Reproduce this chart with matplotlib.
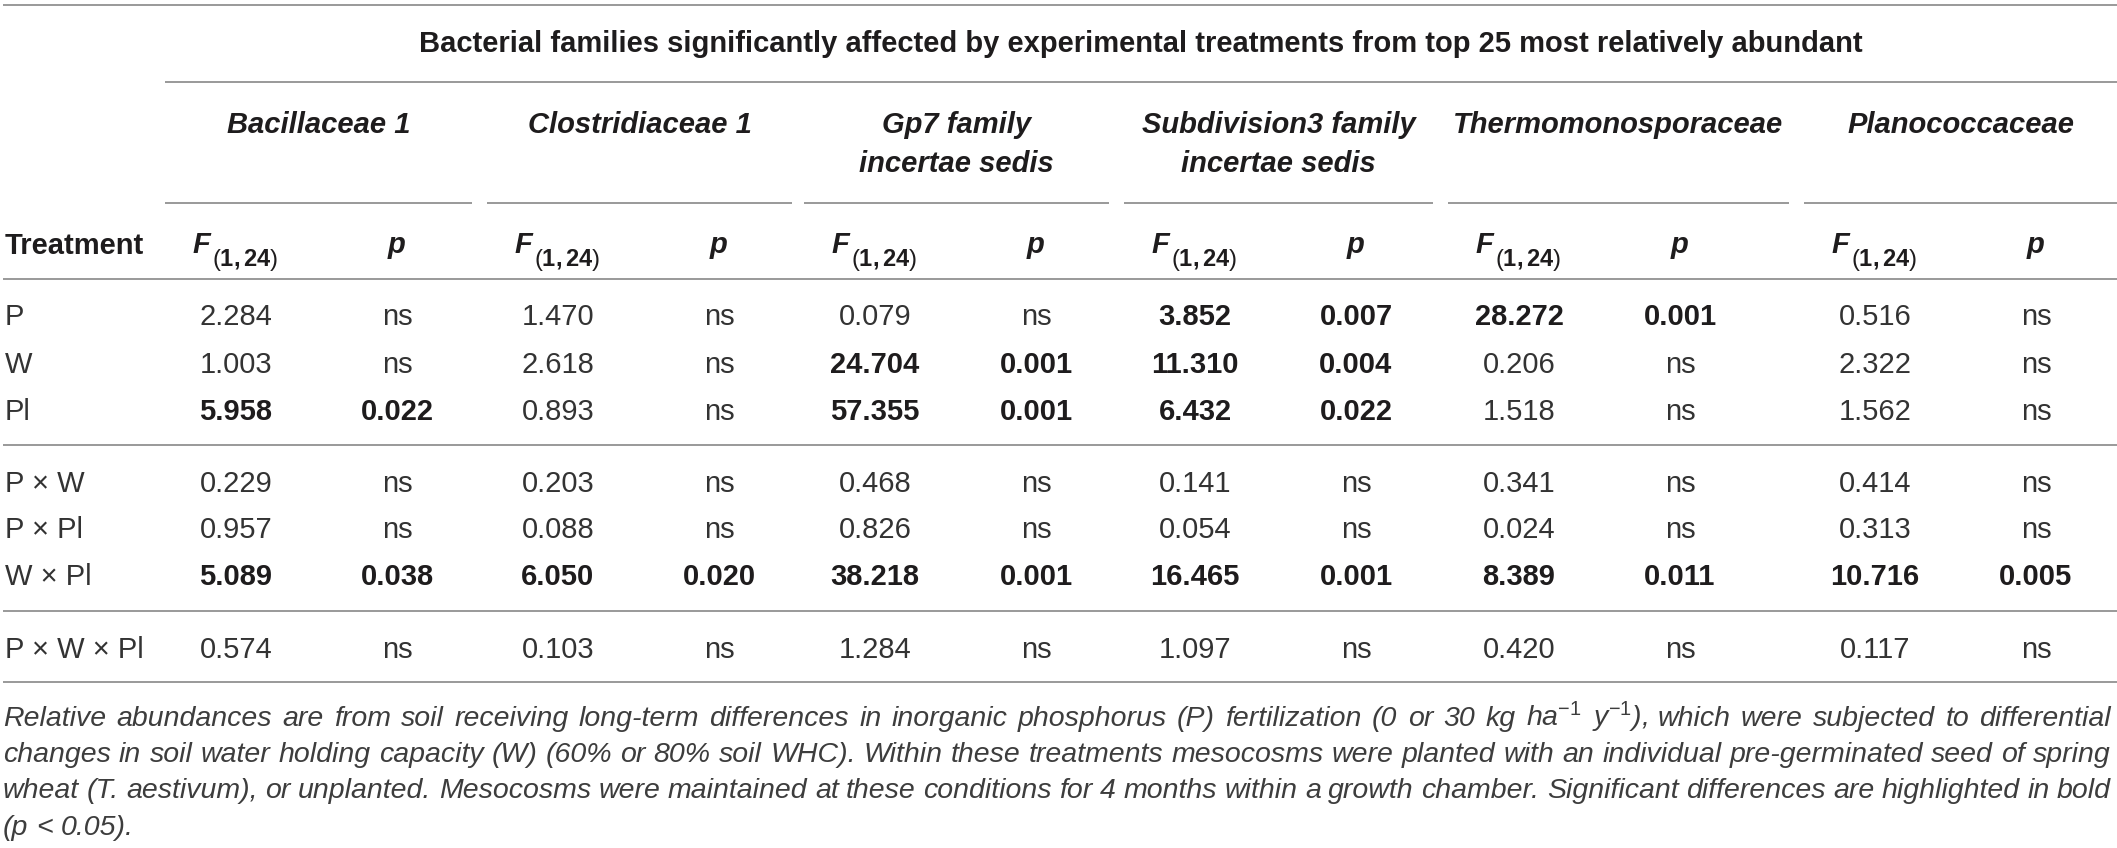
import matplotlib
matplotlib.use("Agg")
import matplotlib.pyplot as plt

plt.rcParams['font.family'] = ['Liberation Sans', 'DejaVu Sans']
plt.rcParams['mathtext.fontset'] = 'custom'
plt.rcParams['mathtext.rm'] = 'Liberation Sans'
plt.rcParams['mathtext.it'] = 'Liberation Sans:italic'
plt.rcParams['mathtext.bf'] = 'Liberation Sans:bold'

# === data ===
title = ("Bacterial families significantly affected by experimental treatments "
         "from top 25 most relatively abundant")
families = [["Bacillaceae 1"], ["Clostridiaceae 1"],
            ["Gp7 family", "incertae sedis"],
            ["Subdivision3 family", "incertae sedis"],
            ["Thermomonosporaceae"], ["Planococcaceae"]]
treatments = ["P", "W", "Pl", "P × W", "P × Pl", "W × Pl", "P × W × Pl"]

f_bacillaceae = ["2.284", "1.003", "5.958", "0.229", "0.957", "5.089", "0.574"]
p_bacillaceae = ["ns", "ns", "0.022", "ns", "ns", "0.038", "ns"]
f_clostridiaceae = ["1.470", "2.618", "0.893", "0.203", "0.088", "6.050", "0.103"]
p_clostridiaceae = ["ns", "ns", "ns", "ns", "ns", "0.020", "ns"]
f_gp7 = ["0.079", "24.704", "57.355", "0.468", "0.826", "38.218", "1.284"]
p_gp7 = ["ns", "0.001", "0.001", "ns", "ns", "0.001", "ns"]
f_subdiv3 = ["3.852", "11.310", "6.432", "0.141", "0.054", "16.465", "1.097"]
p_subdiv3 = ["0.007", "0.004", "0.022", "ns", "ns", "0.001", "ns"]
f_thermo = ["28.272", "0.206", "1.518", "0.341", "0.024", "8.389", "0.420"]
p_thermo = ["0.001", "ns", "ns", "ns", "ns", "0.011", "ns"]
f_plano = ["0.516", "2.322", "1.562", "0.414", "0.313", "10.716", "0.117"]
p_plano = ["ns", "ns", "ns", "ns", "ns", "0.005", "ns"]

f_cols = [f_bacillaceae, f_clostridiaceae, f_gp7, f_subdiv3, f_thermo, f_plano]
p_cols = [p_bacillaceae, p_clostridiaceae, p_gp7, p_subdiv3, p_thermo, p_plano]

footnote = [
    "Relative abundances are from soil receiving long-term differences in inorganic "
    "phosphorus (P) fertilization (0 or 30 kg ha$^{-1}$ y$^{-1}$), which were subjected to differential",
    "changes in soil water holding capacity (W) (60% or 80% soil WHC). Within these treatments "
    "mesocosms were planted with an individual pre-germinated seed of spring",
    "wheat (T. aestivum), or unplanted. Mesocosms were maintained at these conditions for 4 months "
    "within a growth chamber. Significant differences are highlighted in bold",
    "(p < 0.05).",
]

# === layout (pixels) ===
W, H = 2117, 848
group_left = [165, 487, 804, 1124, 1448, 1804]
group_right = [472, 792, 1109, 1433, 1789, 2117]
row_base = [325, 373, 420, 492, 538, 585, 658]
foot_base = [726, 762, 798, 835]
dark = '#1e1c1d'
grey_txt = '#333333'
foot_txt = '#3d3d3d'
rule = '#7d7d7d'
fs = 21
fs_foot = 20.5

fig = plt.figure(figsize=(W / 100, H / 100), dpi=100)
ax = fig.add_axes([0, 0, 1, 1])
ax.set_xlim(0, W)
ax.set_ylim(H, 0)
ax.axis('off')

# rules
ax.hlines([5, 279, 682], 3, W, color=rule, lw=1.1)
ax.hlines(82, group_left[0], W, color=rule, lw=1.1)
ax.hlines([445, 611], 3, W, color=rule, lw=1.1)
ax.hlines([203] * 6, group_left, group_right, color=rule, lw=1.1)

# title
ax.text((group_left[0] + W) / 2, 52, title, ha='center', va='baseline',
        fontsize=fs, fontweight='bold', color=dark)

# family names
for gl, gr, name in zip(group_left, group_right, families):
    for k, line in enumerate(name):
        ax.text((gl + gr) / 2, 133 + 39 * k, line, ha='center', va='baseline',
                fontsize=fs, fontweight='bold', fontstyle='italic', color=dark)

# column header row
ax.text(5, 254, "Treatment", ha='left', va='baseline', fontsize=fs,
        fontweight='bold', color=dark)
for gl in group_left:
    fc = gl + 71
    pc = gl + 232
    ax.text(fc - 44, 253, "F", ha='left', va='baseline', fontsize=fs,
            fontweight='bold', fontstyle='italic', color=dark)
    ax.text(fc - 24, 266, r"$(\mathbf{1,24})$", ha='left', va='baseline',
            fontsize=17, color=dark)
    ax.text(pc, 253, "p", ha='center', va='baseline', fontsize=fs,
            fontweight='bold', fontstyle='italic', color=dark)

# body
for i, tr in enumerate(treatments):
    ax.text(5, row_base[i], tr, ha='left', va='baseline', fontsize=fs, color=grey_txt)
    for gl, fv, pv in zip(group_left, f_cols, p_cols):
        sig = pv[i] != "ns"
        wt = 'bold' if sig else 'normal'
        col = dark if sig else grey_txt
        ax.text(gl + 71, row_base[i], fv[i], ha='center', va='baseline',
                fontsize=fs, fontweight=wt, color=col)
        ax.text(gl + 232, row_base[i], pv[i], ha='center', va='baseline',
                fontsize=fs, fontweight=wt, color=col)

# footnote, justified
renderer = fig.canvas.get_renderer()
x0, x1 = 3, 2111
for k, (line, yb) in enumerate(zip(footnote, foot_base)):
    words = line.split(" ")
    texts = [ax.text(0, yb, w, ha='left', va='baseline', fontsize=fs_foot,
                     fontstyle='italic', color=foot_txt) for w in words]
    widths = [t.get_window_extent(renderer).width for t in texts]
    space = 0.278 * fs_foot * 100 / 72
    if k < len(footnote) - 1 and len(words) > 1:
        gap = (x1 - x0 - sum(widths)) / (len(words) - 1)
    else:
        gap = space
    x = x0
    for t, wd in zip(texts, widths):
        t.set_x(x)
        x += wd + gap

fig.savefig("out.png", dpi=100, facecolor='white')
